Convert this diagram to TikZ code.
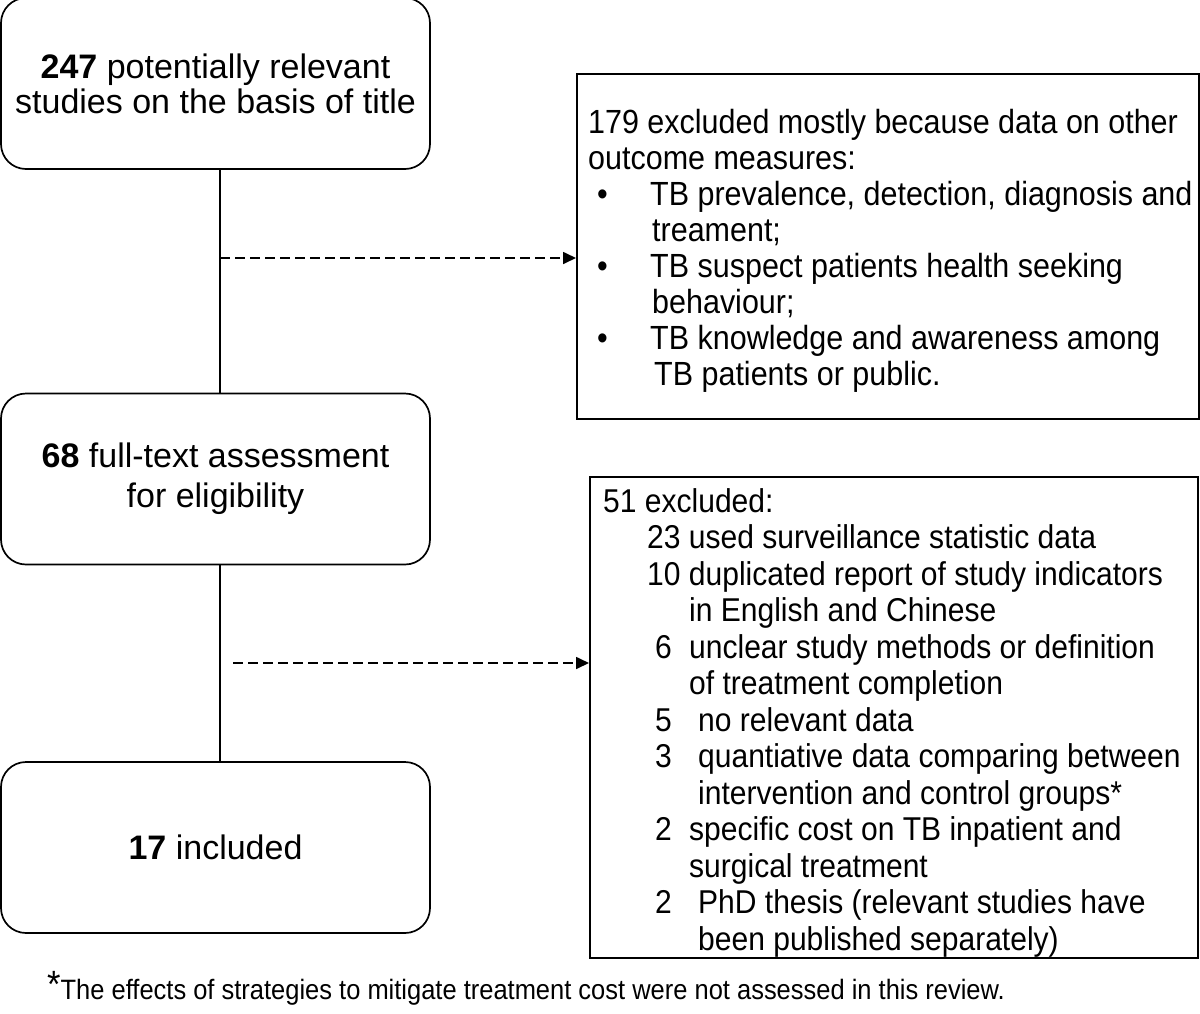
\documentclass[tikz,border=0pt]{standalone}
\usepackage{fontspec}
\setmainfont[FakeStretch=0.91]{Liberation Sans}
\newfontfamily\plainsans{Liberation Sans}
\usetikzlibrary{arrows.meta}
\begin{document}
\begin{tikzpicture}[x=1pt,y=-1pt,
  roundbox/.style={draw,line width=1.7pt,rounded corners=25pt,minimum width=429pt,minimum height=171pt,inner sep=0pt,align=center,font=\plainsans\fontsize{34}{35}\selectfont},
  sqbox/.style={draw,line width=1.7pt,inner sep=0pt,anchor=north west},
  boxtext/.style={anchor=base west,inner sep=0pt},
  conn/.style={line width=1.7pt},
  dasharrow/.style={line width=1.7pt,dash pattern=on 10pt off 5pt,-{Triangle[length=13pt,width=12pt]}}]
\useasboundingbox (0,0) rectangle (1200,1013);

% left boxes
\node[roundbox] (b1) at (215.5,83.5) {\textbf{247} potentially relevant\\studies on the basis of title};
\node[roundbox,font=\plainsans\fontsize{34}{40}\selectfont] (b2) at (215.5,479) {\textbf{68} full-text assessment\\for eligibility};
\node[roundbox] (b3) at (215.5,847.5) {\textbf{17} included};

% vertical connectors
\draw[conn] ([xshift=4.5pt]b1.south) -- ([xshift=4.5pt]b2.north);
\draw[conn] ([xshift=4.5pt]b2.south) -- ([xshift=4.5pt]b3.north);

% right boxes (frames)
\node[sqbox,minimum width=622pt,minimum height=345pt] (e1) at (576,73) {};
\node[sqbox,minimum width=608pt,minimum height=481pt] (e2) at (589,476) {};

% texts of right boxes
\node[boxtext,font=\fontsize{33.5}{36.1}\selectfont] (t1) at (588,133) {\begin{tabular}[t]{@{}l@{}}
179 excluded mostly because data on other\\
outcome measures:\\
\hspace*{9pt}\makebox[53pt][l]{•}TB prevalence, detection, diagnosis and\\
\hspace*{64pt}treament;\\
\hspace*{9pt}\makebox[53pt][l]{•}TB suspect patients health seeking\\
\hspace*{64pt}behaviour;\\
\hspace*{9pt}\makebox[53pt][l]{•}TB knowledge and awareness among\\
\hspace*{66pt}TB patients or public.
\end{tabular}};

\node[boxtext,font=\fontsize{33}{36.5}\selectfont] (t2) at (603,512) {\begin{tabular}[t]{@{}l@{}}
51 excluded:\\
\hspace*{44pt}23 used surveillance statistic data\\
\hspace*{44pt}10 duplicated report of study indicators\\
\hspace*{86pt}in English and Chinese\\
\hspace*{52pt}\makebox[34pt][l]{6}unclear study methods or definition\\
\hspace*{86pt}of treatment completion\\
\hspace*{52pt}\makebox[43pt][l]{5}no relevant data\\
\hspace*{52pt}\makebox[43pt][l]{3}quantiative data comparing between\\
\hspace*{95pt}intervention and control groups*\\
\hspace*{52pt}\makebox[34pt][l]{2}specific cost on TB inpatient and\\
\hspace*{86pt}surgical treatment\\
\hspace*{52pt}\makebox[43pt][l]{2}PhD thesis (relevant studies have\\
\hspace*{95pt}been published separately)
\end{tabular}};

% dashed arrows
\coordinate (a1s) at (220,258);
\coordinate (a2s) at (233,663);
\draw[dasharrow] (a1s) -- (a1s -| e1.west);
\draw[dasharrow] (a2s) -- (a2s -| e2.west);

% footnote
\node[boxtext] (fn) at (47,999) {\fontsize{38}{38}\selectfont\raisebox{2pt}{*}\fontsize{28}{30}\selectfont The effects of strategies to mitigate treatment cost were not assessed in this review.};
\end{tikzpicture}
\end{document}
